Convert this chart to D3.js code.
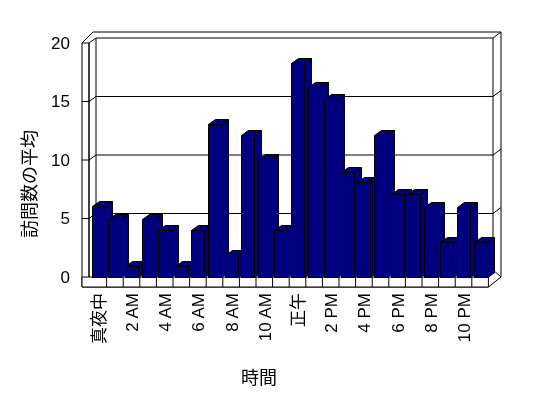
<!DOCTYPE html>
<html><head><meta charset="utf-8">
<script src="https://cdn.jsdelivr.net/npm/d3@7"></script>
<style>
html,body{margin:0;padding:0;background:#fff;}
text{font-family:"Liberation Sans","Noto Sans CJK JP",sans-serif;fill:#000;}
.jp{font-family:"Noto Sans CJK JP",sans-serif;font-weight:400;}
svg{will-change:transform;}
</style></head>
<body>
<svg id="c" width="548" height="398"></svg>
<script>
const categories = ["0","1","2","3","4","5","6","7","8","9","10","11","12","13","14","15","16","17","18","19","20","21","22","23"];
const values = [6.1,5,0.9,5,4,0.9,4,13.1,1.9,12.1,10.1,4,18.3,16.2,15.2,9,8.1,12.1,7.1,7.1,6,3,6,3];
const tickLabels = ["真夜中","2 AM","4 AM","6 AM","8 AM","10 AM","正午","2 PM","4 PM","6 PM","8 PM","10 PM"];
const yTicks = [0,5,10,15,20];
const yTitle = "訪問数の平均";
const xTitle = "時間";

const svg = d3.select("#c");
const FX0 = 90, FX1 = 488.4, Y0 = 277, YTOP = 43;
const DX = 7, DY = -5;       // depth offset
const WL = 82;               // left wall outer x
const FLOOR_B = 287;          // floor slab bottom

const x = d3.scaleBand().domain(categories).range([FX0, FX1]).paddingInner(0.22).paddingOuter(0.11);
const y = d3.scaleLinear().domain([0,20]).range([Y0, YTOP]);
const line = d3.line();
const g = svg.append("g").attr("fill","none").attr("stroke","#000").attr("stroke-width",1);

function seg(pts){ g.append("path").attr("d", line(pts)); }

// outer outline of walls + floor
g.append("path").attr("d", line([[WL,FLOOR_B],[WL,y(20)],[WL+11,y(20)-11],[501,y(20)-11],[501,Y0],[FX1,FLOOR_B]]) + "Z").attr("fill","#fff");
seg([[FX0-1,y(20)],[FX0-1,Y0]]);
seg([[WL,y(20)],[FX0-1,y(20)]]);
seg([[FX0-1,y(20)],[FX0-1+DX,y(20)+DY]]);
const BX0 = FX0-1+DX, BX1 = 493;
seg([[BX0,y(20)+DY],[BX0,Y0+DY]]);
seg([[BX0,y(20)+DY],[BX1,y(20)+DY]]);
seg([[BX1,y(20)+DY],[501,y(20)+DY-6]]);
seg([[BX1,y(20)+DY],[BX1,Y0+DY]]);
seg([[BX0,Y0+DY],[BX1,Y0+DY]]);
seg([[FX1,Y0],[FX1+DX,Y0+DY]]);
seg([[FX1+DX,Y0+DY],[501,Y0]]);

// gridlines & ticks
yTicks.filter(v=>v>0 && v<20).forEach(v=>{
  const yy = y(v);
  seg([[WL,yy],[FX0-1,yy]]);
  seg([[FX0-1,yy],[BX0,yy+DY]]);
  seg([[BX0,yy+DY],[BX1,yy+DY]]);
  seg([[BX1,yy+DY],[501,yy+DY-6]]);
});

// floor front slab
g.append("path").attr("d", line([[WL,Y0],[FX1,Y0],[FX1,FLOOR_B],[WL,FLOOR_B]])+"Z").attr("fill","#fff");
categories.forEach((c,i)=>{
  if(i===0) return;
  const xx = FX0 + x.step()*i;
  seg([[xx,Y0],[xx,FLOOR_B]]);
});
seg([[FX0-1,y(20)],[FX0-1,Y0]]);

// bars
const bw = x.bandwidth();
const bars = svg.append("g").attr("stroke","#000").attr("stroke-width",1).attr("fill","#000080");
categories.forEach((c,i)=>{
  const x0 = Math.round(x(c)) + 0.5, yt = Math.round(y(values[i])) + 0.5, yb = Y0 + 0.5;
  const w = Math.round(bw);
  bars.append("path").attr("d", line([[x0+w,yt],[x0+w+DX,yt+DY],[x0+w+DX,yb+DY],[x0+w,yb]])+"Z");
  bars.append("path").attr("d", line([[x0,yt],[x0+DX,yt+DY],[x0+w+DX,yt+DY],[x0+w,yt]])+"Z");
  bars.append("rect").attr("x",x0).attr("y",yt).attr("width",w).attr("height",yb-yt);
});

// y tick labels
svg.append("g").selectAll("text").data(yTicks).join("text")
  .attr("x",70).attr("y",d=>y(d)).attr("dy","0.35em").attr("text-anchor","end")
  .attr("font-size",17).attr("fill","#000").text(d=>d);

// x tick labels (every other category)
svg.append("g").selectAll("text").data(tickLabels).join("text")
  .attr("class",d=>/[A-Z0-9]/.test(d)?"":"jp")
  .attr("transform",(d,i)=>{const cx = x(categories[i*2]) + bw/2 + 0.5; return `translate(${cx},293) rotate(-90)`;})
  .attr("dy","0.35em").attr("text-anchor","end").attr("font-size",17).attr("fill","#000").text(d=>d);

// axis titles
svg.append("text").attr("class","jp").attr("transform","translate(30,184) rotate(-90)")
  .attr("text-anchor","middle").attr("dy","0.35em").attr("font-size",18).attr("fill","#000").text(yTitle);
svg.append("text").attr("class","jp").attr("x",259).attr("y",378).attr("dy","0.35em")
  .attr("text-anchor","middle").attr("font-size",18).attr("fill","#000").text(xTitle);
</script>
</body></html>
